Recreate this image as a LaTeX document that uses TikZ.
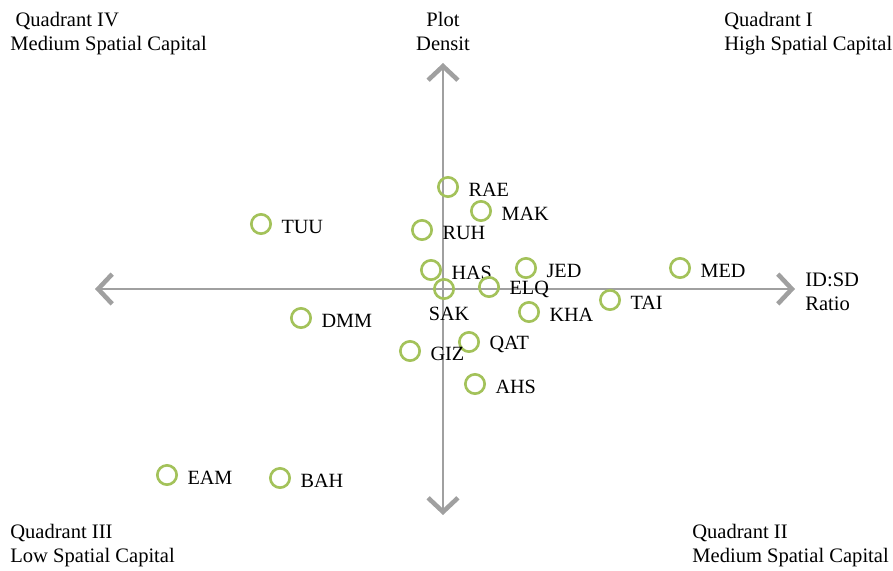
\documentclass[tikz,border=0pt]{standalone}
\usepackage{fontspec}
\setmainfont{Liberation Serif}
\usepackage{xcolor}
\usetikzlibrary{arrows.meta,positioning}
\definecolor{axisgray}{RGB}{160,160,160}
\definecolor{sitegreen}{RGB}{163,194,90}
\tikzset{
axis/.style={
  draw=axisgray,
  line width=1.2pt,
  -{Straight Barb[length=8pt,width=17pt,line width=2.6pt]}
},
site/.style={circle,draw=sitegreen,line width=1.5pt,minimum size=11pt,inner sep=0pt},
sitelabel/.style={font=\fontsize{11.5}{13}\selectfont,inner sep=1pt,anchor=west},
corner/.style={font=\fontsize{11.7}{13.6}\selectfont,inner sep=0pt,align=left},
}

\begin{document}
\begin{tikzpicture}[x=0.02cm,y=-0.02cm]
\useasboundingbox (0,0) rectangle (893,571);
% the axes
\coordinate (origin) at (443,289);
\coordinate (xmin) at (95,289);
\coordinate (xmax) at (795,289);
\coordinate (ymin) at (443,515);
\coordinate (ymax) at (443,63);
\draw[axis] (origin) -- (xmax);
\draw[axis] (origin) -- (xmin);
\draw[axis] (origin) -- (ymax);
\draw[axis] (origin) -- (ymin);
% the sites
\foreach \name/\x/\y in {RAE/448/187,MAK/481/211,TUU/261/224,RUH/422/230,
  HAS/431/270,JED/526/268,MED/680/268,ELQ/489/287,TAI/610/300,DMM/301/318,
  KHA/529/312,QAT/469/342,GIZ/410/351,AHS/475/384,EAM/167/475,BAH/280/478}
{
  \node[site] (\name) at (\x,\y) {};
  \node[sitelabel,right=10.5pt of \name.center,yshift=-1.5pt] (lbl\name) {\name};
}
\node[site] (SAK) at (444,289) {};
\node[sitelabel,anchor=center] (lblSAK) at (449,314) {SAK};
% the quadrant labels
\node[corner,anchor=north west] (qfour) at (10,12) {\hspace{3pt}Quadrant IV\\Medium Spatial Capital};
\node[corner,anchor=north west] (qone) at (724,12) {Quadrant I\\High Spatial Capital};
\node[corner,anchor=north west] (qthree) at (10,524) {Quadrant III\\Low Spatial Capital};
\node[corner,anchor=north west] (qtwo) at (692,524) {Quadrant II\\Medium Spatial Capital};
\node[corner,align=center,anchor=north] (ylabel) at (443,12) {Plot\\Densit};
\node[corner,anchor=north west] (xlabel) at (805,273) {ID:SD\\Ratio};
\end{tikzpicture}
\end{document}
